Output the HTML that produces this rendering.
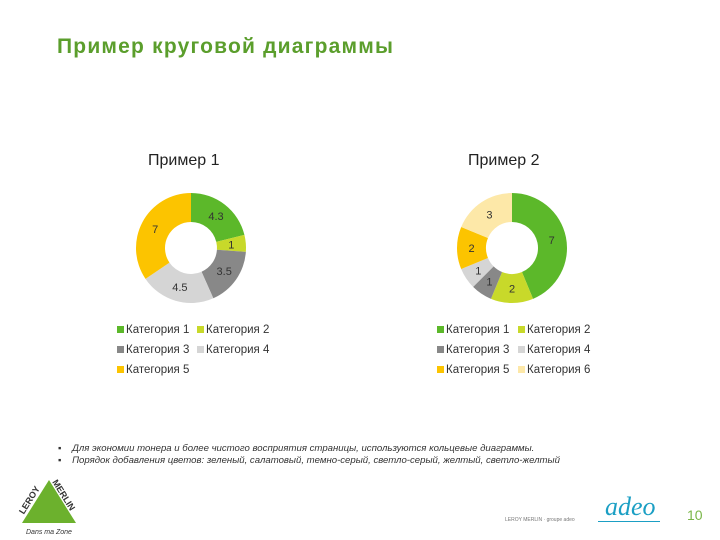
<!DOCTYPE html>
<html><head><meta charset="utf-8"><style>
body{margin:0;width:720px;height:540px;background:#fff;overflow:hidden;position:relative;font-family:"Liberation Sans",sans-serif}
.t{position:absolute;white-space:nowrap}
.lg{position:absolute;font-size:11.5px;color:#333;white-space:nowrap}
.sq{display:inline-block;width:7px;height:7px;margin-right:2px;vertical-align:0}
</style></head><body>
<div class="t" style="left:57px;top:35px;font-size:21px;font-weight:bold;color:#5b9e2c;letter-spacing:1.2px">Пример круговой диаграммы</div>
<div class="t" style="left:148px;top:152px;font-size:16px;color:#222">Пример 1</div>
<div class="t" style="left:468px;top:152px;font-size:16px;color:#222">Пример 2</div>
<svg id="svg" width="720" height="540" style="position:absolute;left:0;top:0"></svg>
<div id="legends"></div>
<div class="t" style="left:58px;top:443px;font-size:9.6px;font-style:italic;color:#333">▪&nbsp;&nbsp;&nbsp; Для экономии тонера и более чистого восприятия страницы, используются кольцевые диаграммы.</div>
<div class="t" style="left:58px;top:455px;font-size:9.6px;font-style:italic;color:#333">▪&nbsp;&nbsp;&nbsp; Порядок добавления цветов: зеленый, салатовый, темно-серый, светло-серый, желтый, светло-желтый</div>
<svg width="70" height="70" style="position:absolute;left:14px;top:468px">
<polygon points="35,12 62,55 8,55" fill="#6cb12d"/>
<text x="6" y="40" font-size="9" font-weight="bold" fill="#333" transform="rotate(-58 14 40)">LEROY</text>
<text x="38" y="14" font-size="9" font-weight="bold" fill="#333" transform="rotate(58 38 14)">MERLIN</text>
<text x="12" y="66" font-size="7" font-style="italic" fill="#333">Dans ma Zone</text>
</svg>
<div class="t" style="left:505px;top:517px;font-size:5px;color:#777">LEROY MERLIN · groupe adeo</div>
<div class="t" style="left:605px;top:492px;font-size:26px;font-style:italic;color:#1b9fc4;font-family:'Liberation Serif',serif">adeo</div>
<div style="position:absolute;left:598px;top:521px;width:62px;height:1px;background:#1b9fc4"></div>
<div class="t" style="left:687px;top:507px;font-size:14px;color:#7ab648">10</div>
<script>
const cats1=["Категория 1","Категория 2","Категория 3","Категория 4","Категория 5"];
const vals1=[4.3,1,3.5,4.5,7];
const labels1=["4.3","1","3.5","4.5","7"];
const cats2=["Категория 1","Категория 2","Категория 3","Категория 4","Категория 5","Категория 6"];
const vals2=[7,2,1,1,2,3];
const labels2=["7","2","1","1","2","3"];
const colors=["#5cb82a","#c8d92a","#888888","#d5d5d5","#fcc400","#fde8a8"];
const svg=document.getElementById('svg');
const NS="http://www.w3.org/2000/svg";
function donut(cx,cy,R,r,vals,labels,id){
  const tot=vals.reduce((a,b)=>a+b,0);let a0=-Math.PI/2;
  vals.forEach((v,i)=>{
    const a1=a0+v/tot*2*Math.PI;const big=(a1-a0)>Math.PI?1:0;
    const p=(rr,a)=>[cx+rr*Math.cos(a),cy+rr*Math.sin(a)];
    const [x0,y0]=p(R,a0),[x1,y1]=p(R,a1),[x2,y2]=p(r,a1),[x3,y3]=p(r,a0);
    const path=document.createElementNS(NS,'path');
    path.setAttribute('d',`M${x0},${y0}A${R},${R} 0 ${big} 1 ${x1},${y1}L${x2},${y2}A${r},${r} 0 ${big} 0 ${x3},${y3}Z`);
    path.setAttribute('fill',colors[i]);
    
    
    svg.appendChild(path);
    const am=(a0+a1)/2;const [lx,ly]=p((R+r)/2,am);
    const t=document.createElementNS(NS,'text');
    t.setAttribute('x',lx);t.setAttribute('y',ly+4);t.setAttribute('text-anchor','middle');
    t.setAttribute('font-size','11');t.setAttribute('fill','#333');t.textContent=labels[i];
    
    
    svg.appendChild(t);
    a0=a1;
  });
}
donut(191,248,55,26,vals1,labels1,1);
donut(512,248,55,26,vals2,labels2,2);
const lg=document.getElementById('legends');
function legend(cats,x0,x1){
  cats.forEach((c,i)=>{
    const d=document.createElement('div');d.className='lg';
    d.style.left=(i%2?x1:x0)+'px';d.style.top=(324+Math.floor(i/2)*20)+'px';
    d.innerHTML=`<span class="sq" style="background:${colors[i]}"></span>${c}`;
    
    
    lg.appendChild(d);
  });
}
legend(cats1,117,197);
legend(cats2,437,518);
</script>
</body></html>
